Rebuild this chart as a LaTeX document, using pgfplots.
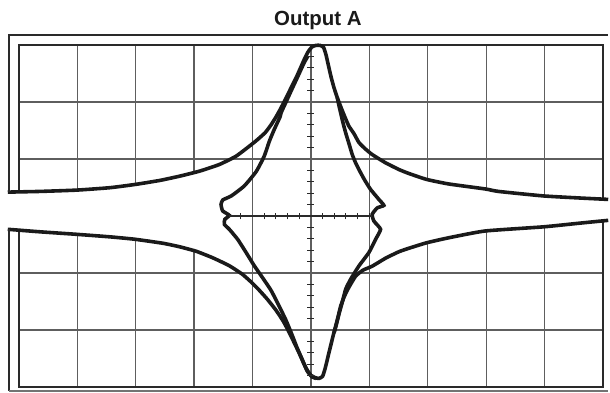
\documentclass[border=0pt]{standalone}
\usepackage{pgfplots}
\pgfplotsset{compat=1.18}
\usepgfplotslibrary{fillbetween}
\usepackage{fontspec}
\setmainfont{Liberation Sans}
\definecolor{trace}{HTML}{1A1A1A}
\definecolor{gridc}{HTML}{5E5E5E}
\definecolor{framec}{HTML}{2A2A2A}
\begin{document}
\begin{tikzpicture}
\begin{axis}[
  x=58.6pt, y=57.2pt,
  xmin=-5, xmax=5, ymin=-3, ymax=3,
  clip=false,
  set layers,
  xtick={-5,...,5}, ytick={-3,-2,-1,1,2,3},
  xticklabels={}, yticklabels={},
  tick label style={overlay, inner sep=0pt, font=\tiny},
  major tick length=0pt,
  grid=major,
  major grid style={line width=1.3pt, gridc},
  axis line style={line width=2.2pt, framec},
]
% upper outer trace
\addplot[name path=upper, trace, line width=3.6pt, smooth, tension=0.3] coordinates {
(-5.188,0.419) (-4.638,0.431) (-4.012,0.454) (-3.444,0.496) (-3.010,0.553)
(-2.590,0.623) (-2.249,0.698) (-1.908,0.786) (-1.567,0.903) (-1.282,1.048)
(-1.055,1.223) (-0.913,1.340) (-0.782,1.462) (-0.679,1.602) (-0.594,1.742)
(-0.509,1.899) (-0.423,2.074) (-0.338,2.249) (-0.253,2.424) (-0.184,2.581)
(-0.116,2.739) (-0.048,2.878) (0.020,2.966) (0.089,2.992) (0.157,2.992)
(0.217,2.957) (0.259,2.826) (0.294,2.669) (0.345,2.441) (0.396,2.249)
(0.452,2.074) (0.498,1.952) (0.538,1.847) (0.601,1.690) (0.652,1.573)
(0.737,1.445) (0.823,1.288) (0.925,1.183) (1.049,1.078) (1.278,0.933)
(1.505,0.816) (1.676,0.746) (1.983,0.641) (2.358,0.562) (2.980,0.475)
(3.212,0.431) (3.980,0.352) (4.577,0.317) (5.089,0.291)
};
% lower outer trace
\addplot[name path=lower, trace, line width=3.6pt, smooth, tension=0.3] coordinates {
(-5.188,-0.233) (-4.638,-0.277) (-4.012,-0.321) (-3.444,-0.365) (-3.010,-0.408)
(-2.532,-0.478) (-2.249,-0.539) (-1.964,-0.618) (-1.681,-0.732) (-1.396,-0.872)
(-1.174,-1.020) (-1.020,-1.160) (-0.901,-1.282) (-0.747,-1.457) (-0.599,-1.649)
(-0.474,-1.842) (-0.372,-2.039) (-0.287,-2.218) (-0.201,-2.401) (-0.133,-2.559)
(-0.060,-2.707) (0.003,-2.795) (0.084,-2.838) (0.140,-2.847) (0.200,-2.812)
(0.242,-2.681) (0.276,-2.541) (0.311,-2.389) (0.396,-2.039) (0.456,-1.807)
(0.510,-1.580) (0.575,-1.405) (0.652,-1.247) (0.766,-1.055) (0.891,-0.950)
(1.049,-0.880) (1.278,-0.740) (1.505,-0.627) (1.676,-0.566) (1.983,-0.469)
(2.358,-0.382) (2.980,-0.263) (3.980,-0.190) (4.577,-0.128) (5.089,-0.076)
};
% white band between the outer traces, outside the central lobes
\addplot[white] fill between[of=upper and lower, soft clip={domain=-5.3:-1.62}];
\addplot[white] fill between[of=upper and lower, soft clip={domain=1.3:5.2}];
% inner left trace
\addplot[trace, line width=3.6pt, smooth, tension=0.3] coordinates {
(-0.048,2.809) (-0.116,2.686) (-0.218,2.459) (-0.321,2.232) (-0.423,2.004)
(-0.509,1.812) (-0.526,1.742) (-0.628,1.515) (-0.713,1.305) (-0.799,1.048)
(-0.935,0.781) (-1.140,0.527) (-1.362,0.352) (-1.507,0.282) (-1.538,0.204)
(-1.510,0.090) (-1.396,0.011) (-1.473,-0.059) (-1.481,-0.146) (-1.396,-0.233)
(-1.254,-0.408) (-1.111,-0.636) (-0.969,-0.872) (-0.833,-1.073) (-0.684,-1.300)
(-0.560,-1.545) (-0.428,-1.824) (-0.321,-2.087) (-0.235,-2.314) (-0.145,-2.524)
(-0.065,-2.716) (0.020,-2.821) (0.089,-2.847)
};
% inner right trace
\addplot[trace, line width=3.6pt, smooth, tension=0.3] coordinates {
(0.452,2.074) (0.481,1.934) (0.510,1.807) (0.549,1.637) (0.596,1.457)
(0.652,1.270) (0.708,1.078) (0.771,0.920) (0.852,0.758) (0.925,0.623)
(1.022,0.466) (1.164,0.291) (1.249,0.186) (1.135,0.142) (1.049,0.029)
(1.078,-0.088) (1.193,-0.233) (1.108,-0.408) (0.993,-0.641) (0.823,-0.875)
(0.681,-1.108) (0.596,-1.282) (0.538,-1.510) (0.481,-1.719) (0.430,-1.929)
(0.396,-2.052)
};
% centre cross with minor ticks
\draw[line width=1.2pt, framec] (axis cs:-1.396,0) -- (axis cs:1.049,0);
\pgfplotsinvokeforeach{-2.8,-2.6,-2.4,-2.2,-1.8,-1.6,-1.4,-1.2,-0.8,-0.6,-0.4,-0.2,0.2,0.4,0.6,0.8,1.2,1.4,1.6,1.8,2.2,2.4,2.6,2.8}{
  \draw[line width=1.1pt, framec] (axis cs:-0.06,#1) -- (axis cs:0.06,#1);
}
\pgfplotsinvokeforeach{-1.2,-0.8,-0.6,-0.4,-0.2,0.2,0.4,0.6,0.8,1.0}{
  \draw[line width=1.1pt, framec] (axis cs:#1,-0.061) -- (axis cs:#1,0.061);
}
% outer frame
\draw[line width=2.6pt, framec] (axis cs:-5.167,0.42) -- (axis cs:-5.167,3.176) -- (axis cs:5.0887,3.176);
\draw[line width=2.6pt, framec] (axis cs:-5.167,-0.233) -- (axis cs:-5.167,-3.066);
\draw[line width=1.3pt, black!55] (axis cs:-5.167,-3.066) -- (axis cs:5.0887,-3.066);
% title
\node[anchor=base, text=trace, font=\bfseries\fontsize{20.5}{24}\selectfont] at (axis cs:0.119,3.333) {Output A};
% picture extent
\path (axis cs:-5.3208,3.7876) rectangle (axis cs:5.0887,-3.0830);
\end{axis}
\end{tikzpicture}
\end{document}
